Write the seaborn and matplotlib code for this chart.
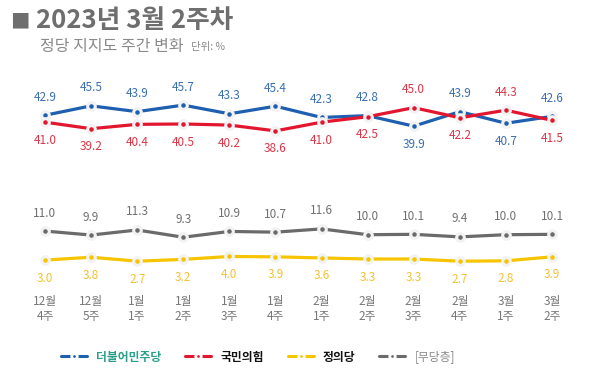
import matplotlib
matplotlib.use("Agg")
import matplotlib.pyplot as plt
import seaborn as sns
import pandas as pd
from matplotlib.lines import Line2D

weeks = ["12월\n4주", "12월\n5주", "1월\n1주", "1월\n2주", "1월\n3주", "1월\n4주",
         "2월\n1주", "2월\n2주", "2월\n3주", "2월\n4주", "3월\n1주", "3월\n2주"]
dem = [42.9, 45.5, 43.9, 45.7, 43.3, 45.4, 42.3, 42.8, 39.9, 43.9, 40.7, 42.6]
ppp = [41.0, 39.2, 40.4, 40.5, 40.2, 38.6, 41.0, 42.5, 45.0, 42.2, 44.3, 41.5]
jus = [3.0, 3.8, 2.7, 3.2, 4.0, 3.9, 3.6, 3.3, 3.3, 2.7, 2.8, 3.9]
ind = [11.0, 9.9, 11.3, 9.3, 10.9, 10.7, 11.6, 10.0, 10.1, 9.4, 10.0, 10.1]
parties = ["더불어민주당", "국민의힘", "정의당", "[무당층]"]

sns.set_theme(style="white")
plt.rcParams['font.family'] = ['Noto Sans CJK KR', 'DejaVu Sans']

line_colors = {"더불어민주당": "#1f5fb0", "국민의힘": "#e2172f", "정의당": "#f6c500", "[무당층]": "#6b6b6b"}
label_colors = {"더불어민주당": "#3a6fb0", "국민의힘": "#dc3545", "정의당": "#f2c230", "[무당층]": "#707070"}

rows = []
for name, vals in zip(parties, [dem, ppp, jus, ind]):
    for i, v in enumerate(vals):
        rows.append({"x": i, "value": v, "party": name})
df = pd.DataFrame(rows)

fig = plt.figure(figsize=(6, 3.78), dpi=100)
ax = fig.add_axes([45/600, (378-271)/378, 507/600, 181.5/378])

sns.lineplot(data=df, x="x", y="value", hue="party", palette=line_colors,
             hue_order=["[무당층]", "정의당", "더불어민주당", "국민의힘"],
             linewidth=2.3, marker="o", markersize=5.5, markeredgecolor="#f2f2f2",
             markeredgewidth=2.2, legend=False, ax=ax, clip_on=False)
for ln in ax.lines:
    ln.set_clip_on(False)

ax.set_xlim(0, 11)
ax.set_ylim(0, 50)
for s in ax.spines.values():
    s.set_visible(False)
ax.set_yticks([])
ax.set_xticks(range(len(weeks)))
ax.set_xticklabels(weeks, fontsize=8.5, color="#777777", linespacing=1.25)
ax.tick_params(axis="x", length=0, pad=17)
ax.set_xlabel("")
ax.set_ylabel("")

off = 13
for i in range(len(weeks)):
    d, p = dem[i], ppp[i]
    d_up = d >= p
    ax.annotate(f"{d:.1f}", (i, d), xytext=(0, off if d_up else -off), textcoords="offset points",
                ha="center", va="center", fontsize=8.5, color=label_colors["더불어민주당"])
    ax.annotate(f"{p:.1f}", (i, p), xytext=(0, -off if d_up else off), textcoords="offset points",
                ha="center", va="center", fontsize=8.5, color=label_colors["국민의힘"])
    ax.annotate(f"{ind[i]:.1f}", (i, ind[i]), xytext=(0, off), textcoords="offset points",
                ha="center", va="center", fontsize=8.5, color=label_colors["[무당층]"])
    ax.annotate(f"{jus[i]:.1f}", (i, jus[i]), xytext=(0, -off), textcoords="offset points",
                ha="center", va="center", fontsize=8.5, color=label_colors["정의당"])

fig.text(10/600, 1-22/378, "■", fontsize=14, fontweight="bold",
         color="#6e6e6e", va="center", ha="left")
fig.text(36/600, 1-21/378, "2023년 3월 2주차", fontsize=18.5, fontweight="heavy",
         color="#6e6e6e", va="center", ha="left")
fig.text(40/600, 1-46/378, "정당 지지도 주간 변화", fontsize=11.5, color="#8a8a8a",
         va="center", ha="left")
fig.text(191/600, 1-47/378, "단위: %", fontsize=7.5, color="#8a8a8a",
         va="center", ha="left")

handles = [Line2D([0], [0], color=line_colors[p], lw=2.2, marker="o", markersize=4,
                  markeredgecolor="white", markeredgewidth=2) for p in parties]
leg = fig.legend(handles, parties, loc="center", bbox_to_anchor=(0.43, 1-357/378), ncol=4,
                 frameon=False, fontsize=8.5, handlelength=2.2, columnspacing=2.0, handletextpad=0.8)
text_cols = ["#2aa08a", "#111111", "#111111", "#8a8a8a"]
for t, c in zip(leg.get_texts(), text_cols):
    t.set_color(c)
    if c != "#8a8a8a":
        t.set_fontweight("bold")

fig.savefig("out.png", dpi=100)
